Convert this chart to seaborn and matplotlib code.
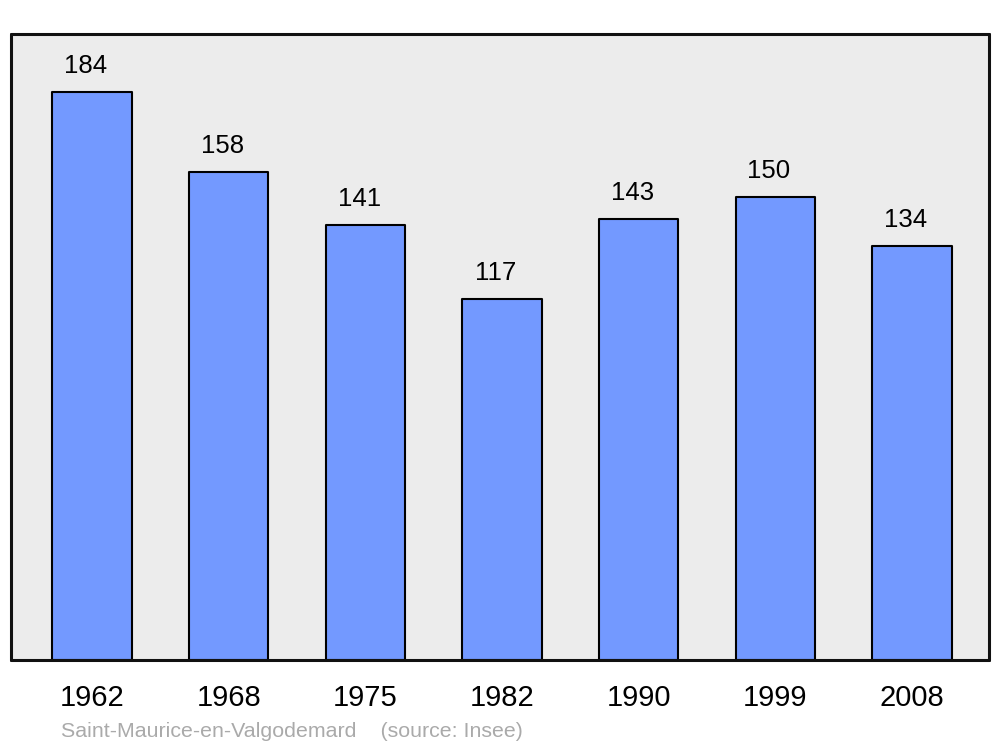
import matplotlib
matplotlib.use("Agg")
import matplotlib.pyplot as plt
import seaborn as sns
import pandas as pd

# données
annees = ["1962", "1968", "1975", "1982", "1990", "1999", "2008"]
population = [184, 158, 141, 117, 143, 150, 134]

df = pd.DataFrame({"annee": annees, "pop": population})

sns.set_style("white")
plt.rcParams['font.family'] = ['Liberation Sans', 'DejaVu Sans']
plt.rcParams['text.color'] = 'black'
plt.rcParams['xtick.color'] = 'black'

fig = plt.figure(figsize=(10, 7.47), dpi=100)
ax = fig.add_axes([0.011, 0.1165, 0.978, 0.838])
ax.set_facecolor("#ececec")

sns.barplot(data=df, x="annee", y="pop", color="#7399ff", saturation=1,
            width=0.58, edgecolor="black", linewidth=1.5, ax=ax)
for p in ax.patches:
    p.set_joinstyle("round")

# étiquettes au-dessus des barres
for i, v in enumerate(population):
    ax.annotate(str(v), (i, v), xytext=(-4.5, 10), textcoords="offset points",
                ha="center", va="bottom", fontsize=18.5, color="black")

ax.set_xlim(-0.593, 6.564)
ax.set_ylim(0, 202.8)
ax.set_yticks([])
ax.set_xlabel("")
ax.set_ylabel("")
ax.tick_params(axis="x", length=0, labelsize=21, pad=17, labelcolor="black")
for s in ax.spines.values():
    s.set_linewidth(2.2)
    s.set_color("#111111")
    s.set_capstyle("round")
    s.set_joinstyle("round")

fig.text(0.061, 0.014, "Saint-Maurice-en-Valgodemard    (source: Insee)",
         color="#aaaaaa", fontsize=15.4, ha="left", va="baseline")

fig.savefig("out.png", dpi=100)
